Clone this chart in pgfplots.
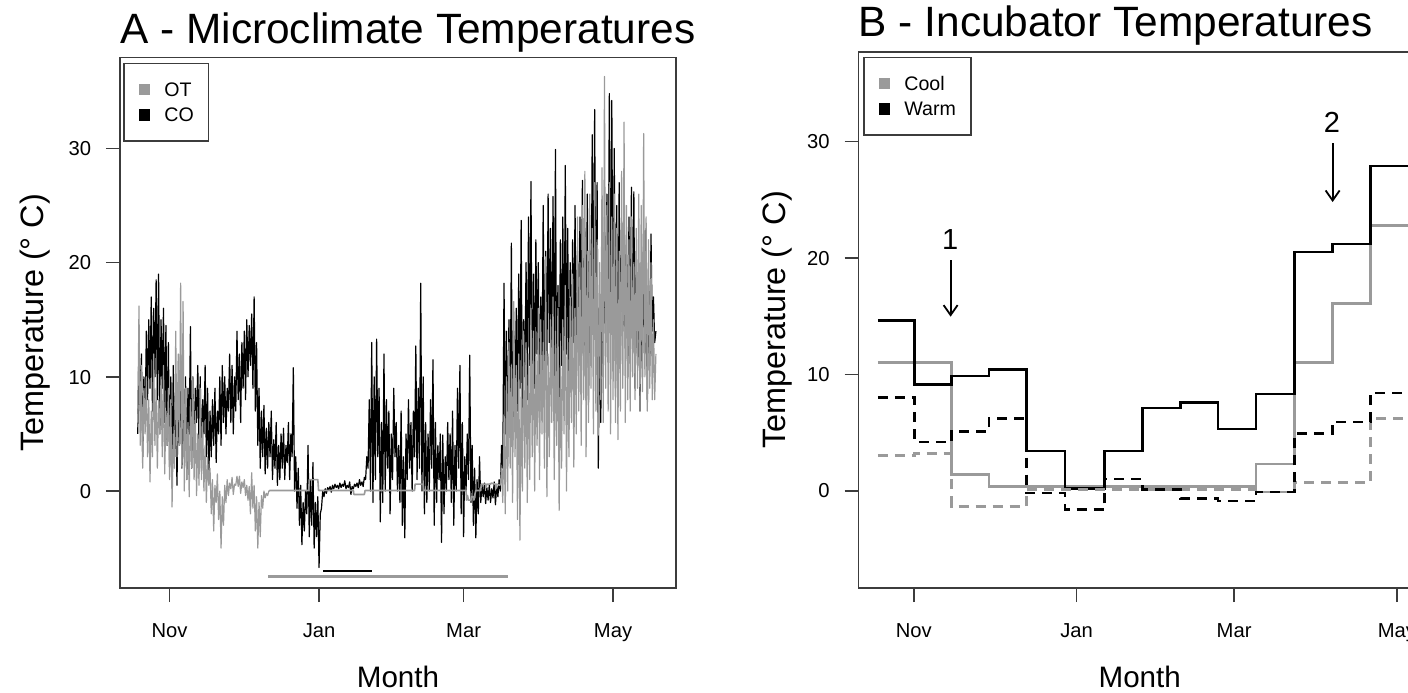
\documentclass[border=0pt]{standalone}
\usepackage{fontspec}
\setmainfont{Liberation Sans}
\usepackage{pgfplots}
\pgfplotsset{compat=1.18}
\usetikzlibrary{arrows.meta}
\definecolor{rgray}{HTML}{9A9A9A}
\definecolor{frm}{HTML}{3C3C3C}
\pgfplotsset{
  every axis title shift=0pt,
  rpanel/.style={
    scale only axis,
    axis line style={frm, line width=0.8pt},
    every tick/.style={frm, line width=0.8pt},
    tick align=outside,
    major tick length=7pt,
    xtick pos=left, ytick pos=left,
    xtick={0,61,120,181},
    xticklabels={Nov,Jan,Mar,May},
    ytick={0,10,20,30},
    minor tick num=0,
    /pgf/number format/assume math mode=true,
    ticklabel style={font=\fontsize{10.1}{11}\selectfont, inner sep=0pt, text height=7.2pt, text depth=0pt},
    xticklabel style={anchor=north},
    yticklabel style={anchor=east},
    xticklabel shift=10.2pt,
    yticklabel shift=7.2pt,
    title style={anchor=base west, inner sep=0pt, font=\fontsize{21.2}{24}\selectfont},
    xlabel style={anchor=base, inner sep=0pt, font=\fontsize{14.8}{17}\selectfont},
    ylabel style={anchor=base, inner sep=0pt, font=\fontsize{16.2}{18}\selectfont},
    legend image code/.code={\fill[##1] (0pt,-2.5pt) rectangle (5pt,2.5pt);},
    legend style={anchor=north west, draw=frm, line width=0.7pt, fill=white,
      inner xsep=7.5pt, inner ysep=9.5pt, row sep=5.75pt, column sep=7pt,
      font=\fontsize{9.8}{11}\selectfont,
      nodes={inner sep=0pt, text height=7pt, text depth=0pt}},
    legend cell align=left,
  }
}
\begin{document}
\begin{tikzpicture}
% ---------------- Panel A ----------------
\begin{axis}[rpanel,
  at={(60pt,52pt)}, anchor=south west,
  width=278pt, height=265.25pt,
  xmin=-20.25, xmax=206.7, ymin=-8.49, ymax=37.96,
  title={A - Microclimate Temperatures},
  title style={at={([yshift=7.1pt]axis description cs:0,1)}},
  xlabel={Month},
  xlabel style={at={([yshift=-49.85pt]axis description cs:0.5,0)}},
  ylabel={Temperature (° C)},
  ylabel style={at={([xshift=-38.5pt]axis description cs:0,0.5)}},
  legend style={at={(0.0059,0.9902)}},
]
\addlegendimage{rgray}\addlegendentry{OT}
\addlegendimage{black}\addlegendentry{CO}
% CO (daily min / max), days -13 .. 198 after 1 Nov
\addplot[black, line width=0.6pt, line join=round, forget plot]
 table[x expr=\coordindex/2-13, y index=0, header=false, row sep=\\] {
5\\13\\7\\12\\3\\10\\6\\14\\8\\15\\9\\17\\7\\16\\10\\18.5\\8\\19\\5\\15\\9\\16\\6\\14.5\\4\\13\\
2\\10\\1\\11\\3\\9\\0.5\\8\\4\\12\\2\\11\\3\\10\\1\\9\\5\\14.4\\2\\10\\3\\9\\6\\11\\4\\10\\2\\8\\5\\11\\3\\9\\1\\7\\
3\\8\\4\\9\\2.5\\7\\5\\10\\4\\11\\6\\10\\5\\9\\7\\12\\6\\11\\5\\10\\7\\14\\8\\12\\6\\13\\9\\14\\8\\15\\10\\14.5\\11\\15.5\\9\\17\\7\\13\\
4\\9\\2\\7\\3\\7.5\\1.5\\5.5\\2\\6\\3\\7\\1\\4.5\\2\\6\\0.5\\4\\1\\5\\2\\5.5\\1\\4\\2.5\\6\\1\\5\\3\\10.8\\
0\\3\\-1.5\\2\\-3\\0.5\\-4.7\\-1\\-3.5\\0\\-2\\4\\-4\\1\\-3\\2.5\\-5\\-1\\-4\\-0.5\\-6.7\\-2\\-1.5\\0\\
-0.5\\0.2\\-0.2\\0.3\\0.1\\0.4\\-0.1\\0.5\\0.2\\0.6\\0.3\\0.5\\0.2\\0.7\\0.3\\0.6\\0.4\\0.9\\0.2\\0.5\\0.3\\0.8\\-0.3\\0.4\\0.2\\0.6\\0.4\\0.7\\0.3\\1\\0.5\\0.8\\0.4\\1.2\\1\\3\\
2\\8\\0\\13\\-1\\10\\1\\13.3\\3\\9\\-2.7\\6\\-1\\12\\0\\8\\2\\7\\-2\\5\\
1\\9\\3\\6\\0\\4\\-1\\7\\-3\\3\\-4.1\\5\\1\\8\\2\\6\\0\\7\\3\\12.7\\
1\\9\\2\\18.2\\0\\10\\-2\\6\\-1\\5\\0\\8\\2\\11.5\\-3\\6\\-1\\4\\1\\5\\
-4.5\\4.9\\-2\\3\\0\\6\\1\\5\\-1\\7\\-3\\4\\0\\9\\2\\11\\-2\\6\\-4\\3\\
0\\5\\1\\11.9\\-1\\4\\-3\\2\\-4.1\\1\\-2\\3\\
-1\\0.5\\-0.5\\0.7\\-1.1\\0.3\\-0.8\\0.6\\-1\\0.2\\-0.6\\0.8\\-1.2\\0.4\\-0.5\\1\\0\\4\\
2\\18.2\\5\\14\\3\\15\\6\\21.7\\4\\14\\8\\16\\7\\19\\9\\23.7\\5\\15\\10\\20\\
8\\24\\11\\27.1\\7\\19\\9\\22\\12\\20\\6\\17\\10\\25\\8\\21\\11\\26\\13\\23\\
9\\25.8\\10\\29.9\\7\\18\\8\\22\\11\\24\\9\\28.5\\12\\23\\8\\20\\10\\22\\13\\25\\
9\\21\\11\\24\\14\\27.2\\10\\23\\12\\26\\8\\22\\11\\31.2\\15\\33.4\\12\\27\\2\\16\\
6\\20\\10\\24\\13\\26\\16\\34.8\\14\\34.2\\12\\30\\9\\25\\8.7\\27\\11\\23\\14\\25\\
12.5\\22\\10\\24\\13\\26.6\\12\\26.2\\9\\21\\11\\19\\7\\20\\10\\22\\12\\23\\8\\18\\
11\\22.5\\14\\17\\13\\14\\
};
% OT part 1, days -13 .. 40
\addplot[rgray, line width=0.6pt, line join=round, forget plot]
 table[x expr=\coordindex/2-13, y index=0, header=false, row sep=\\] {
6\\16.2\\4\\11\\2\\9\\5\\10\\3\\8\\0.8\\7\\3\\12\\4\\9\\2\\8\\5\\10\\3\\11\\1.5\\7\\4\\9\\
1\\8\\-1.4\\5\\2\\14\\3\\12\\4\\18.2\\2\\16.6\\0\\9\\1\\6\\-0.5\\8\\2\\10\\1\\7\\-0.4\\5\\0.5\\9\\1\\6\\0\\4\\-1\\3\\0.5\\2\\
-2\\1\\-3.5\\0.5\\-1\\1.5\\-2.5\\0\\-5\\-0.5\\-3\\0.5\\-1\\1\\-0.4\\0.7\\0.2\\1.2\\-0.3\\0.6\\0.5\\1.3\\0.4\\1.3\\-0.2\\0.8\\0.3\\1\\-0.4\\0.5\\-0.8\\0.4\\-2\\1.6\\-1.5\\0.5\\-3.5\\-0.5\\-5\\-1\\-4\\-0.4\\-1.5\\0\\-0.6\\-0.2\\-0.4\\0\\
};
% OT part 2, snow-covered period
\addplot[rgray, line width=0.8pt, line join=round, forget plot] coordinates {
(40.5,0)(41,0.05)(56.8,0.05)(57,1)(60.5,1)(60.8,0.05)(75,0.05)(75.2,-0.3)(79.5,-0.3)(79.8,0.05)
(100,0.05)(100.2,0.6)(103.5,0.6)(103.8,0.05)(121,0.05)(121.2,-0.8)(121.6,-0.4)(122,-0.8)(123,-0.8)
(123.2,-0.5)(124,-0.5)(124.2,-0.8)(124.6,-0.3)(125,0.05)(127,0.05)(127.2,0.6)(129,0.6)(129.2,0.3)
(129.5,0.6)(131,0.6)(131.3,0.7)(133,0.6)(133.2,0.2)(133.5,0.6)(135,0.5)};
% OT part 3, days 135 .. 198
\addplot[rgray, line width=0.6pt, line join=round, forget plot]
 table[x expr=\coordindex/2+135, y index=0, header=false, row sep=\\] {
0.5\\2\\-1\\6\\
-2\\10\\0\\13\\2\\11\\-1\\16.6\\3\\11\\-2.5\\12\\-4.3\\9\\0\\14\\2\\13\\-1\\12\\
1\\16\\3\\14\\0\\12\\4\\16\\1\\15\\5\\13\\2\\20.5\\-0.5\\12\\3\\15\\6\\17\\
1\\14\\4\\16\\-1.7\\11\\2\\15\\5\\18\\0\\13\\3\\17\\6\\19\\2.1\\16\\5\\24\\
7\\20\\4\\25\\8\\28\\3\\21\\6\\26\\9\\23\\5\\27\\7\\22\\4.9\\20\\8\\28.3\\
6\\36.3\\9\\25\\7\\27\\5\\24\\8\\26\\6\\23\\4.5\\21\\7\\28\\9\\32.3\\6\\25\\
8\\22\\7\\24\\10\\20\\8\\23\\9\\26\\7\\25\\8.7\\31.3\\10\\24\\7\\22\\9\\20\\
8\\15\\8\\12\\
};
% snow-cover bars
\addplot[rgray, line width=1.2pt, forget plot] coordinates {(40.3,-7.5)(138.1,-7.5)};
\addplot[black, line width=1.3pt, forget plot] coordinates {(62.8,-7.0)(82.5,-7.0)};
\end{axis}
% ---------------- Panel B ----------------
\begin{axis}[rpanel,
  at={(429.25pt,52pt)}, anchor=south west,
  width=281.25pt, height=268pt,
  xmin=-20.7, xmax=190, ymin=-8.36, ymax=37.69,
  title={B - Incubator Temperatures},
  title style={at={([yshift=7.65pt]axis description cs:0,1)}},
  xlabel={Month},
  xlabel style={at={([yshift=-49.6pt]axis description cs:0.5,0)}},
  ylabel={Temperature (° C)},
  ylabel style={at={([xshift=-36.3pt]axis description cs:0,0.5)}},
  legend style={at={(0.0085,0.9912)}},
]
\addlegendimage{rgray}\addlegendentry{Cool}
\addlegendimage{black}\addlegendentry{Warm}
% cool, solid
\addplot[const plot, rgray, line width=1.3pt, forget plot] coordinates {
(-13.4,11.0)(14.2,1.4)(28.2,0.35)(128.2,2.3)(142.6,11.0)(156.8,16.1)(171,22.8)(188,22.8)};
% warm, solid
\addplot[const plot, black, line width=1.3pt, forget plot] coordinates {
(-13.4,14.6)(0.2,9.1)(14.2,9.85)(28.2,10.4)(42.2,3.4)(56.6,0.2)(71.5,3.4)(85.6,7.1)(100,7.6)
(114,5.3)(128.2,8.3)(142.6,20.5)(156.8,21.2)(171,27.9)(188,27.9)};
% cool, dashed
\addplot[const plot, rgray, line width=1.3pt, dash pattern=on 5pt off 3.5pt, forget plot] coordinates {
(-13.4,3.0)(0.2,3.2)(14.2,-1.35)(42.2,0.1)(128.2,-0.1)(142.6,0.7)(171,6.2)(188,6.2)};
% warm, dashed
\addplot[const plot, black, line width=1.3pt, dash pattern=on 5pt off 3.5pt, forget plot] coordinates {
(-13.4,8.0)(0.2,4.2)(14.2,5.1)(28.2,6.2)(42.2,-0.2)(56.6,-1.6)(71.5,1.0)(85.6,0.1)(100,-0.65)
(114,-0.9)(128.2,-0.1)(142.6,4.9)(156.8,5.9)(171,8.4)(188,8.4)};
% annotations
\draw[black, line width=0.9pt, -{Straight Barb[length=5pt,width=7pt]}] (axis cs:13.8,19.8) -- (axis cs:13.8,14.95);
\node[font=\fontsize{14.5}{16}\selectfont, inner sep=0pt] at (axis cs:13.6,21.6) {1};
\draw[black, line width=0.9pt, -{Straight Barb[length=5pt,width=7pt]}] (axis cs:156.9,29.85) -- (axis cs:156.9,24.8);
\node[font=\fontsize{14.5}{16}\selectfont, inner sep=0pt] at (axis cs:156.6,31.65) {2};
\end{axis}
\pgfresetboundingbox
\useasboundingbox (0,0) rectangle (704pt,346pt);
\end{tikzpicture}
\end{document}
